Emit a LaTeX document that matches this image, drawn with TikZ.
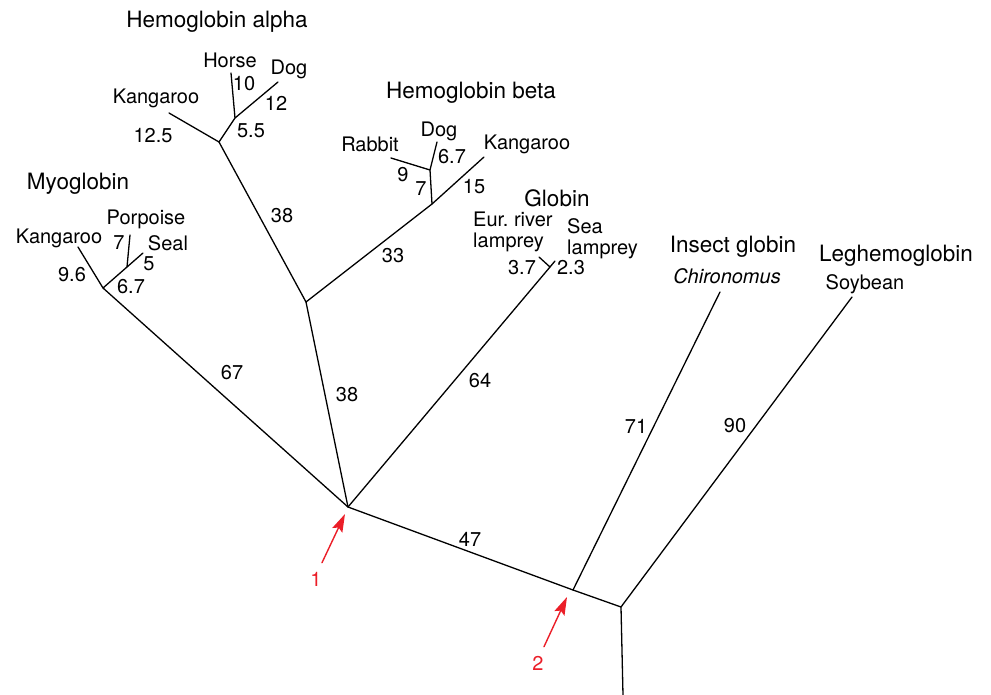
\documentclass[tikz,border=0pt]{standalone}
\usepackage{fontspec}
\setmainfont{TeX Gyre Heros}
\usetikzlibrary{arrows.meta}
\begin{document}
\begin{tikzpicture}[x=1pt, y=-1pt, line cap=round, line join=round,
  branch/.style={line width=1.3pt},
  lab/.style={font=\fontsize{20}{21}\selectfont, inner sep=0pt},
  group/.style={font=\fontsize{22.5}{24}\selectfont, inner sep=0pt},
  marker/.style={markred, line width=1.4pt, -{Stealth[length=18pt,width=11pt,inset=3pt]}}]
  \definecolor{markred}{RGB}{235,30,40}
  \useasboundingbox (0,0) rectangle (991,695);
  % junctions of the tree
  \coordinate (root) at (348,507);
  \coordinate (insj) at (573,590);
  \coordinate (legj) at (621,607);
  \coordinate (base) at (623,695);
  \coordinate (hemj) at (306,302);
  \coordinate (betaj) at (432,204);
  \coordinate (betak) at (430,170);
  \coordinate (alphaj) at (219,142);
  \coordinate (alphak) at (235,118);
  \coordinate (myoj) at (103,288);
  \coordinate (myok) at (127,267);
  \coordinate (lampj) at (550,267);
  % tips of the tree
  \coordinate (ins) at (720,292);
  \coordinate (leg) at (852,297);
  \coordinate (eur) at (539,257);
  \coordinate (sea) at (555,261);
  \coordinate (bkang) at (484,157);
  \coordinate (brab) at (391,158);
  \coordinate (bdog) at (437,142);
  \coordinate (akang) at (169,113);
  \coordinate (ahorse) at (231,73);
  \coordinate (adog) at (278,82);
  \coordinate (mkang) at (78,247);
  \coordinate (mporp) at (130,235);
  \coordinate (mseal) at (143,253);

  \draw[branch] (root) -- (insj) -- (legj) -- (base);
  \draw[branch] (insj) -- (ins);
  \draw[branch] (legj) -- (leg);
  \draw[branch] (root) -- (lampj);
  \draw[branch] (eur) -- (lampj) -- (sea);
  \draw[branch] (root) -- (hemj) -- (betaj) -- (bkang);
  \draw[branch] (betaj) -- (betak) -- (brab);
  \draw[branch] (betak) -- (bdog);
  \draw[branch] (hemj) -- (alphaj) -- (akang);
  \draw[branch] (alphaj) -- (alphak) -- (ahorse);
  \draw[branch] (alphak) -- (adog);
  \draw[branch] (root) -- (myoj) -- (mkang);
  \draw[branch] (myoj) -- (myok) -- (mporp);
  \draw[branch] (myok) -- (mseal);

  % group names
  \node[group] (galpha) at (217,22) {Hemoglobin alpha};
  \node[group] (gbeta) at (471,93) {Hemoglobin beta};
  \node[group] (gmyo) at (78,184) {Myoglobin};
  \node[group] (gglob) at (557,198) {Globin};
  \node[group] (gins) at (733,247) {Insect globin};
  \node[group] (gleg) at (896,256) {Leghemoglobin};

  % species
  \node[lab] (thorse) at (230,60) {Horse};
  \node[lab] (tadog) at (289,69) {Dog};
  \node[lab] (takang) at (156,98) {Kangaroo};
  \node[lab] (tbrab) at (370,144) {Rabbit};
  \node[lab] (tbdog) at (439,131) {Dog};
  \node[lab] (tbkang) at (527,144) {Kangaroo};
  \node[lab] (tmporp) at (146,219) {Porpoise};
  \node[lab] (tmkang) at (59,238) {Kangaroo};
  \node[lab] (tmseal) at (168,243) {Seal};
  \node[lab, align=left, anchor=west] (teur) at (473,232) {Eur.\ river\\lamprey};
  \node[lab, align=left, anchor=west] (tsea) at (567,239) {Sea\\lamprey};
  \node[lab] (tchir) at (727,276) {\itshape Chironomus};
  \node[lab] (tsoy) at (865,284) {Soybean};

  % branch lengths
  \node[lab] (l10) at (244,84) {10};
  \node[lab] (l12) at (276,103) {12};
  \node[lab] (l125) at (153,136) {12.5};
  \node[lab] (l55) at (251,131) {5.5};
  \node[lab] (l38a) at (282,216) {38};
  \node[lab] (l67b) at (452,157) {6.7};
  \node[lab] (l9) at (403,175) {9};
  \node[lab] (l7b) at (421,189) {7};
  \node[lab] (l15) at (474,187) {15};
  \node[lab] (l33) at (393,256) {33};
  \node[lab] (l7m) at (119,243) {7};
  \node[lab] (l5) at (149,264) {5};
  \node[lab] (l96) at (72,275) {9.6};
  \node[lab] (l67m) at (131,287) {6.7};
  \node[lab] (l37) at (522,268) {3.7};
  \node[lab] (l23) at (571,268) {2.3};
  \node[lab] (l67) at (232,373) {67};
  \node[lab] (l38b) at (347,395) {38};
  \node[lab] (l64) at (480,381) {64};
  \node[lab] (l71) at (636,426) {71};
  \node[lab] (l90) at (735,426) {90};
  \node[lab] (l47) at (470,539) {47};

  % red markers
  \node[lab, markred] (m1) at (316,579) {1};
  \node[lab, markred] (m2) at (538,663) {2};
  \coordinate (m1tip) at (345,514);
  \coordinate (m2tip) at (567,597);
  \draw[marker] (m1.north) ++(6,-9) -- (m1tip);
  \draw[marker] (m2.north) ++(6,-9) -- (m2tip);
\end{tikzpicture}
\end{document}
